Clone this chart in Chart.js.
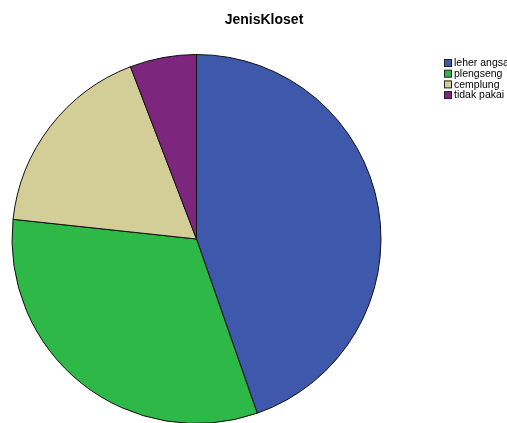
<!DOCTYPE html>
<html>
<head>
<meta charset="utf-8">
<script src="https://cdn.jsdelivr.net/npm/chart.js@4/dist/chart.umd.min.js"></script>
<style>
  html, body { margin: 0; padding: 0; background: #ffffff; }
  #wrap { width: 507px; height: 423px; position: relative; }
</style>
</head>
<body>
<div id="wrap"><canvas id="c" width="507" height="423"></canvas></div>
<script>
const chartTitle = 'JenisKloset';
const categories = ['leher angsa', 'plengseng', 'cemplung', 'tidak pakai'];
const counts = [46, 33, 18, 6];
const sliceColors = ['#3e58ac', '#2eb848', '#d3ce97', '#7c277d'];

// Title and legend are painted directly so they sit where the SPSS layout puts them
const spssDecor = {
  id: 'spssDecor',
  afterDraw(chart) {
    const ctx = chart.ctx;
    ctx.save();
    ctx.fillStyle = '#000000';
    ctx.font = 'bold 14px "Liberation Sans", Arial, sans-serif';
    ctx.textAlign = 'center';
    ctx.textBaseline = 'middle';
    ctx.fillText(chartTitle, 264, 20);

    ctx.font = '10.5px "Liberation Sans", Arial, sans-serif';
    ctx.textAlign = 'left';
    const ds = chart.data.datasets[0];
    chart.data.labels.forEach((lab, i) => {
      const y = 59 + i * 10.7;
      ctx.fillStyle = ds.backgroundColor[i];
      ctx.fillRect(444.5, y + 0.5, 7, 7);
      ctx.strokeStyle = '#222222';
      ctx.lineWidth = 1;
      ctx.strokeRect(444.5, y + 0.5, 7, 7);
      ctx.fillStyle = '#000000';
      ctx.fillText(lab, 454, y + 4.5);
    });
    ctx.restore();
  }
};

new Chart(document.getElementById('c'), {
  type: 'pie',
  data: {
    labels: categories,
    datasets: [{
      data: counts,
      backgroundColor: sliceColors,
      borderColor: '#111111',
      borderWidth: 1,
      radius: 184.5
    }]
  },
  options: {
    responsive: false,
    animation: false,
    layout: { padding: { left: 12, right: 126, top: 55, bottom: 0 } },
    plugins: {
      legend: { display: false },
      title: { display: false },
      tooltip: { enabled: false }
    }
  },
  plugins: [spssDecor]
});
</script>
</body>
</html>
